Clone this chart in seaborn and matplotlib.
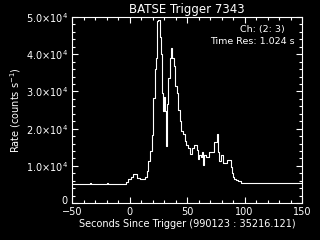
import matplotlib
matplotlib.use("Agg")
import matplotlib.pyplot as plt
import matplotlib.ticker as mticker
import matplotlib.transforms as mtransforms
import seaborn as sns
import pandas as pd

# Breakpoints of the step light curve (seconds since trigger, counts/s)
times = [-50, -34.5, -33.5, -20, -19, -3.3, -1.3, 1.0, 3.3, 6.8, 9.1, 13.2, 14.9,
         16.1, 17.8, 19.6, 20.7, 22.2, 23.3, 24.2, 25.1, 26.2, 27.1, 28.5, 29.4,
         30.0, 30.6, 31.4, 32.3, 33.8, 35.2, 36.1, 37.2, 38.4, 39.3, 41.0, 42.5,
         43.6, 44.8, 46.5, 48.3, 49.4, 51.2, 52.3, 54.6, 56.1, 58.4, 59.6, 60.7,
         61.9, 63.0, 64.2, 64.8, 66.2, 69.4, 73.5, 76.4, 77.2, 78.1, 79.3, 81.6,
         84.5, 88.0, 88.9, 89.7, 90.6, 92.3, 94.6, 96.7, 100.4, 118, 119, 128,
         129.5, 150]
rates = [5050, 5300, 5050, 5300, 5050, 5760, 6490, 7100, 7750, 6850, 6490, 7100, 8650,
         11200, 13900, 18400, 28300, 35900, 39100, 49000, 49300, 44500, 40000, 29600, 24700,
         28500, 24700, 15200, 26500, 33700, 39100, 41800, 39100, 36800, 31400, 29600, 25100,
         22000, 19300, 18600, 16600, 15700, 14900, 13200, 14800, 15500, 14300, 11800, 13000,
         12400, 13600, 10300, 13000, 12400, 13800, 16400, 18600, 13600, 11200, 13000, 10700,
         11600, 9800, 8000, 7100, 6400, 6100, 5800, 5500, 5350, 5500, 5350, 5500,
         5350, 5350]

title = "BATSE Trigger 7343"
xlabel = "Seconds Since Trigger (990123 : 35216.121)"
ylabel = "Rate (counts s$^{-1}$)"
info1 = "Ch: (2: 3)"
info2 = "Time Res: 1.024 s"

df = pd.DataFrame({"t": times, "rate": rates})

sns.set_style("dark")
plt.rcParams["font.family"] = ["DejaVu Sans"]
plt.rcParams["text.color"] = "white"
plt.rcParams["axes.labelcolor"] = "white"
plt.rcParams["xtick.color"] = "white"
plt.rcParams["ytick.color"] = "white"

fig = plt.figure(figsize=(3.2, 2.4), dpi=100, facecolor="black")
ax = fig.add_axes([0.225, 0.154, 0.71875, 0.775])
ax.set_facecolor("black")

sns.lineplot(data=df, x="t", y="rate", ax=ax, color="white", linewidth=0.8,
             drawstyle="steps-post", estimator=None, sort=False)

ax.set_xlim(-50, 150)
ax.set_ylim(0, 50000)
ax.grid(False)
for s in ax.spines.values():
    s.set_color("white")
    s.set_linewidth(0.8)
    s.set_visible(True)

ax.xaxis.set_major_locator(mticker.MultipleLocator(50))
ax.xaxis.set_minor_locator(mticker.MultipleLocator(10))
ax.yaxis.set_major_locator(mticker.MultipleLocator(10000))
ax.yaxis.set_minor_locator(mticker.MultipleLocator(2000))

def yfmt(v, pos):
    if abs(v) < 1e-9:
        return "0"
    return "%.1f\u00d710$^{4}$" % (v / 1e4)

ax.yaxis.set_major_formatter(mticker.FuncFormatter(yfmt))
ax.tick_params(which="both", direction="in", top=True, right=True,
               bottom=True, left=True, colors="white", width=0.8)
ax.tick_params(which="major", length=4, labelsize=7, pad=3)
ax.tick_params(which="minor", length=2)

ax.set_xlabel(xlabel, fontsize=7, color="white", labelpad=1)
ax.set_ylabel(ylabel, fontsize=7, color="white", labelpad=2)
ax.set_title(title, fontsize=8.5, color="white", pad=3)

ax.text(0.925, 0.935, info1, transform=ax.transAxes, ha="right", va="center",
        fontsize=6.8, color="white")
ax.text(0.968, 0.87, info2, transform=ax.transAxes, ha="right", va="center",
        fontsize=6.8, color="white")

# lift the "0" label slightly, as in the reference
fig.canvas.draw()
shift = mtransforms.ScaledTranslation(0, 3.5 / 100, fig.dpi_scale_trans)
for lab in ax.get_yticklabels():
    if lab.get_text() == "0":
        lab.set_transform(lab.get_transform() + shift)

fig.savefig("out.png", dpi=100, facecolor="black")
